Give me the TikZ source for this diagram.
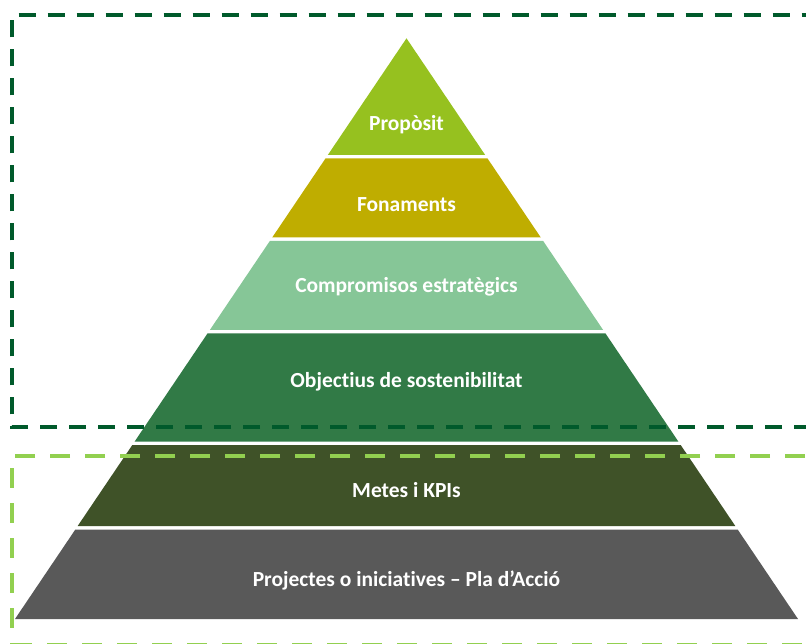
\documentclass[tikz,border=0pt]{standalone}
\usepackage{fontspec}
\setmainfont[Ligatures=NoCommon]{Carlito}
\begin{document}
\begin{tikzpicture}[x=1pt,y=-1pt,
  bandlabel/.style={text=white,font=\bfseries\fontsize{21.5}{25}\selectfont,anchor=base,inner sep=0pt},
  outerframe/.style={draw=frameDark,line width=4pt,dash pattern=on 17pt off 12pt},
  innerframe/.style={draw=frameLight,line width=4pt,dash pattern=on 20pt off 15pt}]
\definecolor{cPurpose}{HTML}{96C11F}
\definecolor{cBase}{HTML}{BFAD00}
\definecolor{cCommit}{HTML}{86C697}
\definecolor{cGoals}{HTML}{317A46}
\definecolor{cTargets}{HTML}{3F5228}
\definecolor{cProjects}{HTML}{595959}
\definecolor{frameDark}{HTML}{005A2B}
\definecolor{frameLight}{HTML}{92D050}
\useasboundingbox (0,0) rectangle (806,644);
\clip (0,0) rectangle (806,644);
% pyramid geometry: apex and edge slope
\def\cx{406.5}
\def\ay{38.3}
\def\kk{0.6742}
\newcommand\pyrband[3]{%
  \fill[#3] ({\cx-\kk*(#1-\ay)},#1) -- ({\cx+\kk*(#1-\ay)},#1)
    -- ({\cx+\kk*(#2-\ay)},#2) -- ({\cx-\kk*(#2-\ay)},#2) -- cycle;}
\pyrband{38.3}{155}{cPurpose}
\pyrband{158.5}{237.5}{cBase}
\pyrband{241}{330}{cCommit}
\pyrband{333.5}{441.5}{cGoals}
\pyrband{445}{526}{cTargets}
\pyrband{529.5}{619}{cProjects}
\node[bandlabel] (proposit) at (\cx,131) {Propòsit};
\node[bandlabel] (fonaments) at (\cx,212) {Fonaments};
\node[bandlabel] (compromisos) at (\cx,293) {Compromisos estratègics};
\node[bandlabel] (objectius) at (\cx,387) {Objectius de sostenibilitat};
\node[bandlabel] (metes) at (\cx,497) {Metes i KPIs};
\node[bandlabel] (projectes) at (\cx,586) {Projectes o iniciatives – Pla d’Acció};
% dashed frames
\draw[outerframe] (840,427) -- (11.7,427) -- (11.7,15.3) -- (840,15.3);
\draw[innerframe] (840,456) -- (12,456) -- (12,646);
\draw[innerframe] (12,645) -- (840,645);
\end{tikzpicture}
\end{document}
